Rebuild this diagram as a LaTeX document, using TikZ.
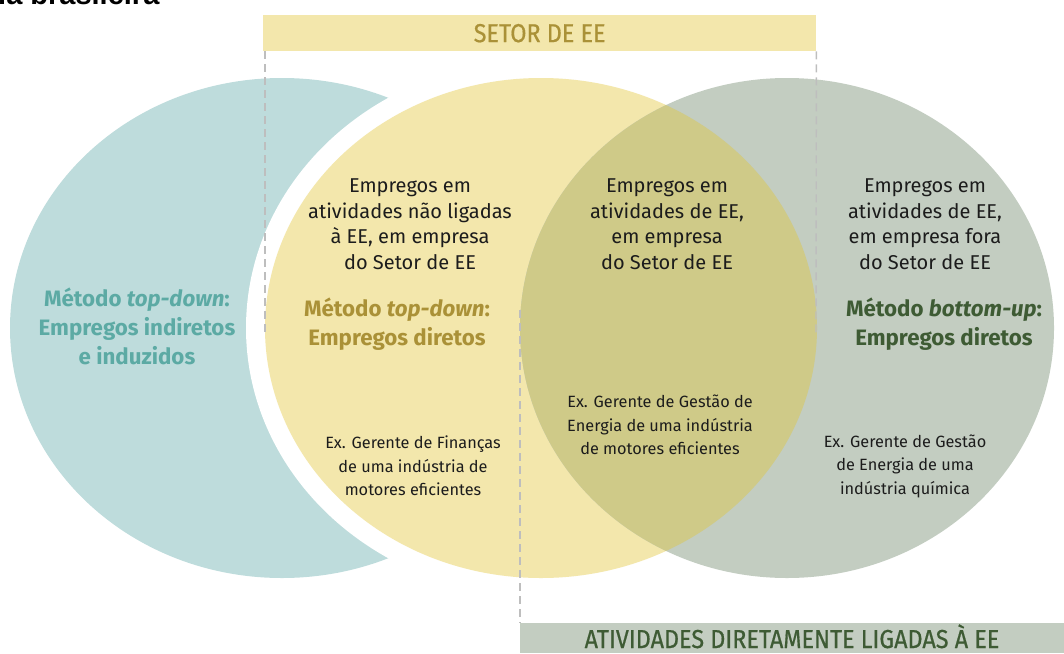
\documentclass[tikz,border=0pt]{standalone}
\usepackage{fontspec}
\setmainfont{Fira Sans}
\newfontfamily\narrowfont[FakeStretch=0.9, FakeBold=0.6]{Fira Sans}
\newfontfamily\titlefont{Liberation Sans}
\usetikzlibrary{positioning}
\definecolor{eeteal}{RGB}{190,220,220}
\definecolor{eetealtext}{RGB}{92,170,164}
\definecolor{eeyellow}{RGB}{243,231,172}
\definecolor{eegold}{RGB}{170,145,55}
\definecolor{eegray}{RGB}{195,205,193}
\definecolor{eegreen}{RGB}{62,91,52}
\definecolor{eeolive}{RGB}{207,202,136}
\definecolor{eeink}{RGB}{28,28,28}
\definecolor{eedash}{RGB}{190,190,190}

\begin{document}
\begin{tikzpicture}[x=1pt, y=-1pt,
    every node/.style={align=center, inner sep=0pt},
    plain/.style={font=\fontsize{20}{25.5}\selectfont, text=eeink},
    method/.style={font=\bfseries\fontsize{22.3}{29}\selectfont},
    example/.style={font=\fontsize{16.3}{23.5}\selectfont, text=eeink},
    banner/.style={font=\narrowfont\fontsize{26}{26}\selectfont, minimum height=36pt},
    guide/.style={draw=eedash, line width=1.4pt, dash pattern=on 8pt off 5pt}]
  \useasboundingbox (0,0) rectangle (1064,653);

  % cut-off title above the figure
  \node[anchor=base west, font=\titlefont\bfseries\fontsize{29}{29}\selectfont] (title) at (-2,5) {ia brasileira};

  % the three sets
  \fill[eeteal] (282,328) ellipse [x radius=272pt, y radius=250pt];
  \fill[white] (541,328) ellipse [x radius=295pt, y radius=269pt];
  \fill[eeyellow] (541,328) ellipse [x radius=276pt, y radius=250pt];
  \fill[eegray] (787,328) ellipse [x radius=267pt, y radius=250pt];
  \begin{scope}
    \clip (541,328) ellipse [x radius=276pt, y radius=250pt];
    \fill[eeolive] (787,328) ellipse [x radius=267pt, y radius=250pt];
  \end{scope}

  % banners
  \node[banner, fill=eeyellow, text=eegold, minimum width=553pt, anchor=north west] (setor) at (263,15) {SETOR DE EE};
  \node[banner, fill=eegray, text=eegreen, minimum width=544pt, minimum height=30pt, anchor=north west] (ativ) at (520,623) {};
  \node[banner, text=eegreen, anchor=base, minimum height=0pt] (ativt) at (792,648) {ATIVIDADES DIRETAMENTE LIGADAS À EE};

  % dashed guides
  \coordinate (gl) at (265,335);
  \coordinate (gr) at (816,335);
  \coordinate (gm) at (520,310);
  \draw[guide] ([xshift=2pt]setor.south west) -- (gl);
  \draw[guide] (setor.south east) -- (gr);
  \draw[guide] (gm) -- (ativ.north west);

  % teal set
  \node[method, text=eetealtext] (tealm) at (137,326) {Método \textit{top-down}:\\Empregos indiretos\\e induzidos};

  % yellow set
  \node[plain] (yellowp) at (410,224) {Empregos em\\atividades não ligadas\\à EE, em empresa\\do Setor de EE};
  \node[method, text=eegold] (yellowm) at (397,324) {Método \textit{top-down}:\\Empregos diretos};
  \node[example] (yellowx) at (413,466) {Ex. Gerente de Finanças\\de uma indústria de\\motores eficientes};

  % overlap
  \node[plain] (olivep) at (667,224) {Empregos em\\atividades de EE,\\em empresa\\do Setor de EE};
  \node[example] (olivex) at (660,425) {Ex. Gerente de Gestão de\\Energia de uma indústria\\de motores eficientes};

  % gray set
  \node[plain] (grayp) at (925,224) {Empregos em\\atividades de EE,\\em empresa fora\\do Setor de EE};
  \node[method, text=eegreen] (graym) at (944,324) {Método \textit{bottom-up}:\\Empregos diretos};
  \node[example] (grayx) at (905,466) {Ex. Gerente de Gestão\\de Energia de uma\\indústria química};
\end{tikzpicture}
\end{document}
